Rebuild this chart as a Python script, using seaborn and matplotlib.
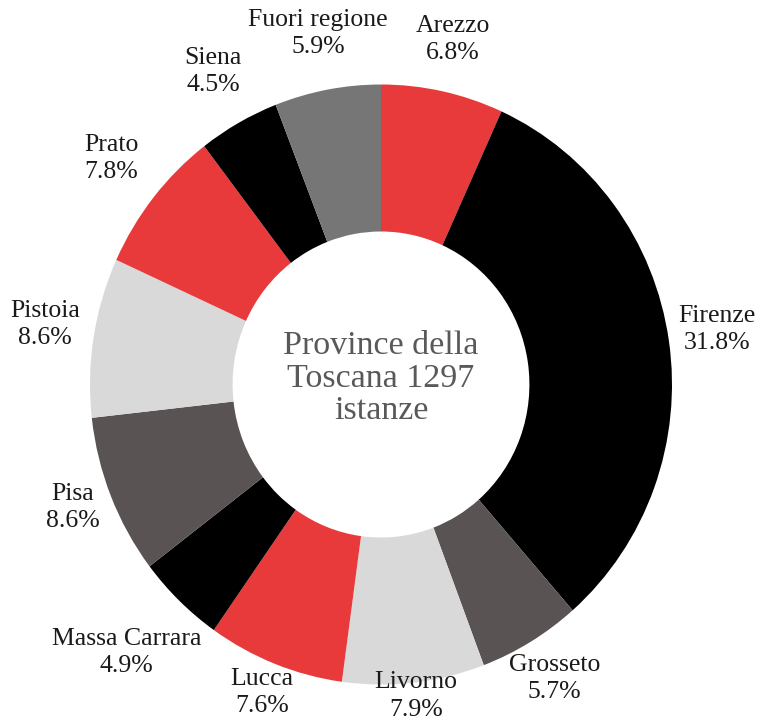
import matplotlib
matplotlib.use("Agg")
import numpy as np
import matplotlib.pyplot as plt
import seaborn as sns

# province shares, clockwise from 12 o'clock
provinces = ["Arezzo", "Firenze", "Grosseto", "Livorno", "Lucca", "Massa Carrara",
             "Pisa", "Pistoia", "Prato", "Siena", "Fuori regione"]
shares = [6.8, 31.8, 5.7, 7.9, 7.6, 4.9, 8.6, 8.6, 7.8, 4.5, 5.9]
colors = ["#E83A3B", "#000000", "#5A5354", "#D9D9D9", "#E83A3B", "#000000",
          "#5A5354", "#D9D9D9", "#E83A3B", "#000000", "#767676"]
# how far out each label sits (in ring radii), as in the original layout
label_dist = [1.16, 1.167, 1.16, 1.06, 1.12, 1.26, 1.14, 1.169, 1.186, 1.179, 1.174]
center_text = "Province della\nToscana 1297\nistanze"

sns.set_theme(style="white")
plt.rcParams["font.family"] = ["Liberation Serif", "DejaVu Serif"]

fig = plt.figure(figsize=(7.62, 7.28), dpi=100)
ax = fig.add_axes([0, 0, 1, 1])

wedges, _ = ax.pie(shares, colors=colors, startangle=90, counterclock=False,
                   wedgeprops=dict(width=0.49, linewidth=0))

for w, name, s, d in zip(wedges, provinces, shares, label_dist):
    ang = np.deg2rad((w.theta1 + w.theta2) / 2)
    ax.text(d * np.cos(ang), d * np.sin(ang) + 0.015, f"{name}\n{s:.1f}%",
            ha="center", va="center", fontsize=18.5, color="#1a1a1a",
            linespacing=1.3)

ax.text(0, 0.02, center_text, ha="center", va="center", fontsize=24.5,
        color="#595959", linespacing=1.08)

# slightly taller than wide, like the source image
rx, ry = 291.0, 300.0
cx, cy = 381.0, 384.5
ax.set_xlim(-cx / rx, (762 - cx) / rx)
ax.set_ylim(-(728 - cy) / ry, cy / ry)
ax.set_aspect("auto")
ax.axis("off")

fig.savefig("out.png", dpi=100, facecolor="white")
